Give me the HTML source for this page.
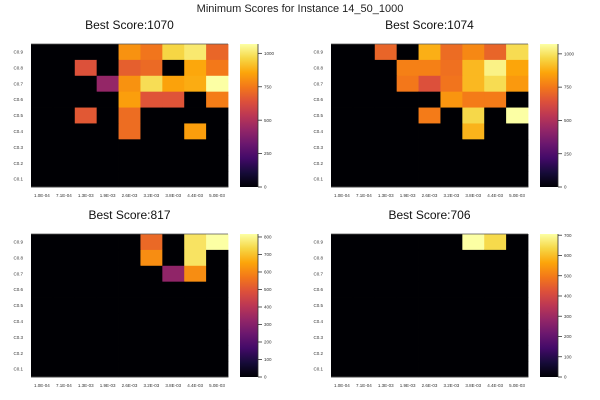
<!DOCTYPE html>
<html><head><meta charset="utf-8"><style>
html,body{margin:0;padding:0;background:#fff;}
svg{display:block;font-family:"Liberation Sans",sans-serif;}
</style></head><body>
<svg id="chart" width="600" height="400" viewBox="0 0 600 400">
<defs>
<linearGradient id="inf" x1="0" y1="1" x2="0" y2="0">
<stop offset="0" stop-color="#000004"/><stop offset="0.1" stop-color="#160b39"/><stop offset="0.2" stop-color="#420a68"/><stop offset="0.3" stop-color="#6a176e"/><stop offset="0.4" stop-color="#932667"/><stop offset="0.5" stop-color="#bc3754"/><stop offset="0.6" stop-color="#dd513a"/><stop offset="0.7" stop-color="#f37819"/><stop offset="0.8" stop-color="#fca50a"/><stop offset="0.9" stop-color="#f6d746"/><stop offset="1" stop-color="#fcffa4"/>
</linearGradient>
</defs>
<text x="300" y="12" text-anchor="middle" font-size="11" fill="#222">Minimum Scores for Instance 14_50_1000</text>
</svg>
<script>
const xLabels = ["1.0E-04","7.1E-04","1.3E-03","1.9E-03","2.6E-03","3.2E-03","3.8E-03","4.4E-03","5.0E-03"];
const yLabels = ["C0.1","C0.2","C0.3","C0.4","C0.5","C0.6","C0.7","C0.8","C0.9"];
const titles = ["Best Score:1070","Best Score:1074","Best Score:817","Best Score:706"];
const maxVals = [1070,1074,817,706];
const tickSteps = [250,250,100,100];
// rows listed top (C0.9) to bottom (C0.1)
const scores1 = [
 [0,0,0,0,810,740,960,1010,700],
 [0,0,640,0,680,710,0,860,750],
 [0,0,0,430,810,980,850,870,1070],
 [0,0,0,0,840,650,650,0,760],
 [0,0,660,0,720,0,0,0,0],
 [0,0,0,0,720,0,0,840,0],
 [0,0,0,0,0,0,0,0,0],[0,0,0,0,0,0,0,0,0],[0,0,0,0,0,0,0,0,0]];
const scores2 = [
 [0,0,700,0,880,720,790,700,980],
 [0,0,0,770,770,730,900,1040,860],
 [0,0,0,750,640,740,900,980,830],
 [0,0,0,0,0,820,760,760,0],
 [0,0,0,0,760,0,970,0,1074],
 [0,0,0,0,0,0,890,0,0],
 [0,0,0,0,0,0,0,0,0],[0,0,0,0,0,0,0,0,0],[0,0,0,0,0,0,0,0,0]];
const scores3 = [
 [0,0,0,0,0,540,0,760,817],
 [0,0,0,0,0,610,0,760,0],
 [0,0,0,0,0,0,320,610,0],
 [0,0,0,0,0,0,0,0,0],[0,0,0,0,0,0,0,0,0],[0,0,0,0,0,0,0,0,0],
 [0,0,0,0,0,0,0,0,0],[0,0,0,0,0,0,0,0,0],[0,0,0,0,0,0,0,0,0]];
const scores4 = [
 [0,0,0,0,0,0,706,640,0],
 [0,0,0,0,0,0,0,0,0],[0,0,0,0,0,0,0,0,0],[0,0,0,0,0,0,0,0,0],
 [0,0,0,0,0,0,0,0,0],[0,0,0,0,0,0,0,0,0],[0,0,0,0,0,0,0,0,0],
 [0,0,0,0,0,0,0,0,0],[0,0,0,0,0,0,0,0,0]];
const allScores = [scores1,scores2,scores3,scores4];

const stops = ["#000004","#160b39","#420a68","#6a176e","#932667","#bc3754","#dd513a","#f37819","#fca50a","#f6d746","#fcffa4"];
function hex(c){return [1,3,5].map(i=>parseInt(c.substr(i,2),16));}
function inferno(t){
  t=Math.max(0,Math.min(1,t));const p=t*10,i=Math.min(9,Math.floor(p)),f=p-i;
  const a=hex(stops[i]),b=hex(stops[i+1]);
  return "rgb("+a.map((v,k)=>Math.round(v+(b[k]-v)*f)).join(",")+")";
}
const NS="http://www.w3.org/2000/svg";
const svg=document.getElementById("chart");
function mk(tag,attrs,parent){const e=document.createElementNS(NS,tag);for(const k in attrs)e.setAttribute(k,attrs[k]);(parent||svg).appendChild(e);return e;}
const origins=[[0,0],[300,0],[0,190],[300,190]];
allScores.forEach((data,p)=>{
  const ox=origins[p][0], oy=origins[p][1];
  const x0=ox+31, x1=ox+228, y0=oy+44, y1=oy+187;
  const cw=(x1-x0)/xLabels.length, ch=(y1-y0)/yLabels.length;
  const g=mk("g",{});
  
  
  const t=mk("text",{x:(x0+x1)/2,y:oy+29,"text-anchor":"middle","font-size":"12","fill":"#111"},g);
  t.textContent=titles[p];
  
  
  const xs=c=>x0+c*cw, ys=r=>y0+r*ch;
  data.forEach((row,r)=>row.forEach((v,c)=>{
    const rc=mk("rect",{x:xs(c),y:ys(r),width:cw+0.4,height:ch+0.4,fill:inferno(v/maxVals[p])},g);
    
    
  }));
  mk("line",{x1:x0,y1:y0,x2:x1,y2:y0,stroke:"#555","stroke-width":"0.8"},g);
  mk("line",{x1:x0,y1:y1,x2:x1,y2:y1,stroke:"#555","stroke-width":"0.8"},g);
  xLabels.forEach((l,i)=>{
    const e=mk("text",{x:xs(i)+cw/2,y:y1+10,"text-anchor":"middle","font-size":"4.5","fill":"#333"},g);
    e.textContent=l;
    
    
  });
  yLabels.forEach((l,i)=>{
    const e=mk("text",{x:x0-8,y:y1-(i+0.5)*ch+1.6,"text-anchor":"end","font-size":"4.5","fill":"#333"},g);
    e.textContent=l;
    
    
  });
  const cx=ox+240, cwid=18;
  const cb=mk("rect",{x:cx,y:y0,width:cwid,height:y1-y0,fill:"url(#inf)"},g);
  
  
  mk("line",{x1:cx+cwid,y1:y0,x2:cx+cwid,y2:y1,stroke:"#333","stroke-width":"0.8"},g);
  const cyv=v=>y1-(v/maxVals[p])*(y1-y0);
  for(let v=0;v<=maxVals[p];v+=tickSteps[p]){
    mk("line",{x1:cx+cwid,y1:cyv(v),x2:cx+cwid+4,y2:cyv(v),stroke:"#333","stroke-width":"0.8"},g);
    const e=mk("text",{x:cx+cwid+6,y:cyv(v)+1.6,"font-size":"4.5","fill":"#333"},g);
    e.textContent=v;
    
    
  }
});
</script>
</body></html>
